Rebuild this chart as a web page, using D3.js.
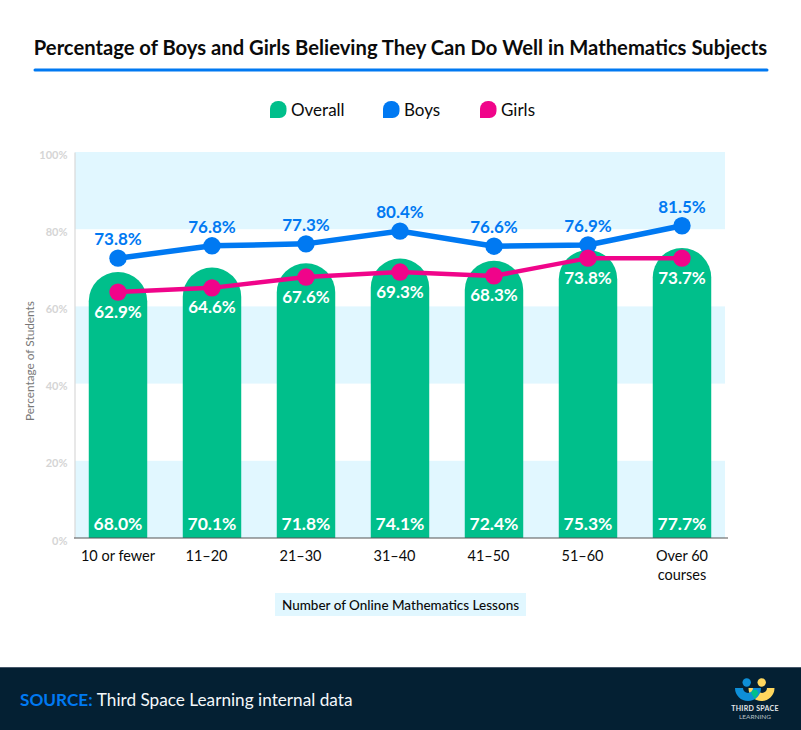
<!DOCTYPE html>
<html>
<head>
<meta charset="utf-8">
<script src="https://cdn.jsdelivr.net/npm/d3@7/dist/d3.min.js"></script>
<style>
  html, body { margin: 0; padding: 0; background: #fff; }
  svg { display: block; font-family: Lato, sans-serif; }
</style>
</head>
<body>
<svg id="chart" width="801" height="730"></svg>
<script>
const chartTitle = 'Percentage of Boys and Girls Believing They Can Do Well in Mathematics Subjects';
const categories = ['10 or fewer', '11–20', '21–30', '31–40', '41–50', '51–60', 'Over 60 courses'];
const yTicks = [0, 20, 40, 60, 80, 100];
const bandRanges = [[80, 100], [40, 60], [0, 20]];

// printed labels
const overallLabels = ['68.0%', '70.1%', '71.8%', '74.1%', '72.4%', '75.3%', '77.7%'];
const boysLabels = ['73.8%', '76.8%', '77.3%', '80.4%', '76.6%', '76.9%', '81.5%'];
const girlsLabels = ['62.9%', '64.6%', '67.6%', '69.3%', '68.3%', '73.8%', '73.7%'];

// the marks in the picture do not sit exactly at their printed labels, so these are read off the geometry
const overallDrawn = [68.9, 70.1, 71.2, 72.4, 71.8, 74.6, 75.1];
const boysDrawn = [72.5, 75.7, 76.2, 79.5, 75.6, 75.9, 80.9];
const girlsDrawn = [63.7, 64.8, 67.6, 68.9, 67.9, 72.5, 72.5];

const C = {
  overall: '#00bf8b', boys: '#0079f2', girls: '#f0048a', band: '#e1f7ff',
  footer: '#042033', ink: '#0b0b0b', tick: '#d5d5d5'
};

const svg = d3.select('#chart');

const x = d3.scaleBand().domain(categories).range([71, 729]).paddingInner(0.378).paddingOuter(0.189);
const y = d3.scaleLinear().domain([0, 100]).range([538, 152]);
const cx = d => x(d) + x.bandwidth() / 2;

// Title
svg.append('text').attr('x', 400.5).attr('y', 55).attr('text-anchor', 'middle')
  .attr('font-size', 20.2).attr('font-weight', 700).attr('fill', C.ink).text(chartTitle);
svg.append('line').attr('x1', 35).attr('x2', 767).attr('y1', 70).attr('y2', 70)
  .attr('stroke', C.boys).attr('stroke-width', 3).attr('stroke-linecap', 'round');

// Legend
const legendItems = [
  { name: 'Overall', color: C.overall, at: 270 },
  { name: 'Boys', color: C.boys, at: 383 },
  { name: 'Girls', color: C.girls, at: 480 }
];
const legend = svg.append('g').selectAll('g').data(legendItems).join('g')
  .attr('transform', d => `translate(${d.at},101)`);
legend.append('path')
  .attr('d', 'M0,17 L0,8 A8,8 0 0 1 8,0 L9,0 A7.5,7.5 0 0 1 16.5,7.5 L16.5,10 A7,7 0 0 1 9.5,17 Z')
  .attr('fill', d => d.color);
legend.append('text').attr('x', 21).attr('y', 15).attr('font-size', 17).attr('fill', C.ink).text(d => d.name);

// Background bands
svg.append('g').selectAll('rect').data(bandRanges).join('rect')
  .attr('x', 75).attr('width', 650)
  .attr('y', d => y(d[1])).attr('height', d => y(d[0]) - y(d[1]))
  .attr('fill', C.band);

// Y axis
const yAxis = svg.append('g').attr('transform', 'translate(74.5,0)')
  .call(d3.axisLeft(y).tickValues(yTicks).tickFormat(d => d + '%').tickSize(0).tickPadding(7));
yAxis.select('.domain').attr('stroke', '#d9d9d9').attr('stroke-width', 1.2);
yAxis.selectAll('text').attr('font-family', 'Lato, sans-serif').attr('font-size', 11).attr('font-weight', 700)
  .attr('fill', C.tick).attr('dy', '0.55em');

svg.append('text').attr('transform', 'translate(34,361) rotate(-90)').attr('text-anchor', 'middle')
  .attr('font-size', 11.8).attr('fill', '#777').text('Percentage of Students');

// Bars with a full round top
const barPath = (d, i) => {
  const l = x(d), w = x.bandwidth(), r = w / 2, top = y(overallDrawn[i]);
  return `M${l},${y(0)} L${l},${top + r} A${r},${r} 0 0 1 ${l + w},${top + r} L${l + w},${y(0)} Z`;
};
svg.append('g').selectAll('path').data(categories).join('path')
  .attr('d', barPath).attr('fill', C.overall);

// X axis
const xAxis = svg.append('g').attr('transform', `translate(0,${y(0)})`)
  .call(d3.axisBottom(x).tickSize(0).tickPadding(13));
xAxis.select('.domain').attr('d', 'M74,0H728').attr('stroke', '#555').attr('stroke-width', 1.2);
xAxis.selectAll('text').attr('font-family', 'Lato, sans-serif').attr('font-size', 14.5).attr('fill', C.ink)
  .attr('dx', d => /^\d+–/.test(d) ? -5.5 : 0)
  .each(function (d) {
    if (!d.startsWith('Over')) return;
    const t = d3.select(this).text(null);
    const lines = [d.slice(0, 7), d.slice(8)];
    lines.forEach((s, i) => t.append('tspan').attr('x', 0).attr('dy', i ? '1.3em' : '0.71em').text(s));
  });

// Lines and points
const line = d3.line().x((v, i) => cx(categories[i])).y(v => y(v));
const drawSeries = (vals, color, width) => {
  svg.append('path').datum(vals).attr('d', line).attr('fill', 'none')
    .attr('stroke', color).attr('stroke-width', width);
  svg.append('g').selectAll('circle').data(vals).join('circle')
    .attr('cx', (v, i) => cx(categories[i])).attr('cy', v => y(v)).attr('r', 8.7).attr('fill', color);
};
drawSeries(boysDrawn, C.boys, 5.5);
drawSeries(girlsDrawn, C.girls, 4.5);

// Value labels
const valueText = (labels, yFn, color, size) => svg.append('g').selectAll('text').data(labels).join('text')
  .attr('x', (t, i) => cx(categories[i])).attr('y', yFn).attr('text-anchor', 'middle')
  .attr('font-size', size).attr('font-weight', 700).attr('fill', color).text(t => t);
valueText(overallLabels, () => 530, '#fff', 17.5);
valueText(boysLabels, (t, i) => y(boysDrawn[i]) - 13, C.boys, 17);
valueText(girlsLabels, (t, i) => y(girlsDrawn[i]) + 25.5, '#fff', 17);

// X axis title
svg.append('rect').attr('x', 275).attr('y', 593).attr('width', 251).attr('height', 23).attr('fill', C.band);
svg.append('text').attr('x', 400.5).attr('y', 610).attr('text-anchor', 'middle')
  .attr('font-size', 13.5).attr('font-weight', 500).attr('fill', C.ink).text('Number of Online Mathematics Lessons');

// Footer
svg.append('rect').attr('x', 0).attr('y', 667).attr('width', 801).attr('height', 63).attr('fill', C.footer);
svg.append('line').attr('x1', 0).attr('x2', 801).attr('y1', 667.5).attr('y2', 667.5).attr('stroke', '#46586a');
const src = svg.append('text').attr('x', 20).attr('y', 705.5).attr('font-size', 17.2);
src.append('tspan').attr('font-weight', 700).attr('fill', C.boys).text('SOURCE: ');
src.append('tspan').attr('fill', '#f4f8fb').text('Third Space Learning internal data');

// Logo
const logo = svg.append('g');
logo.append('circle').attr('cx', 746.7).attr('cy', 682.5).attr('r', 4.2).attr('fill', '#0e8fd8');
logo.append('circle').attr('cx', 761.7).attr('cy', 682.5).attr('r', 4.2).attr('fill', '#ffd75e');
logo.append('path').attr('d', 'M774.5,688 L767,688 A5,5 0 0 1 757,688 L748.5,688 A13,13 0 0 0 774.5,688 Z').attr('fill', '#ffd75e');
logo.append('path').attr('d', 'M735,688 L743,688 A5,5 0 0 0 753,688 L761,688 A13,13 0 0 1 735,688 Z').attr('fill', '#0e8fd8');
logo.append('path').attr('d', 'M752.8,690 L756.8,690 L758.5,693 L754.8,699 L751,693 Z').attr('fill', '#00bf8b');
logo.append('text').attr('x', 755).attr('y', 711).attr('text-anchor', 'middle').attr('font-size', 7)
  .attr('letter-spacing', 0.3).attr('font-weight', 700).attr('fill', '#e4e8ea').text('THIRD SPACE');
logo.append('text').attr('x', 755).attr('y', 718.5).attr('text-anchor', 'middle').attr('font-size', 6.5)
  .attr('fill', '#b9c2c8').text('LEARNING');
</script>
</body>
</html>
